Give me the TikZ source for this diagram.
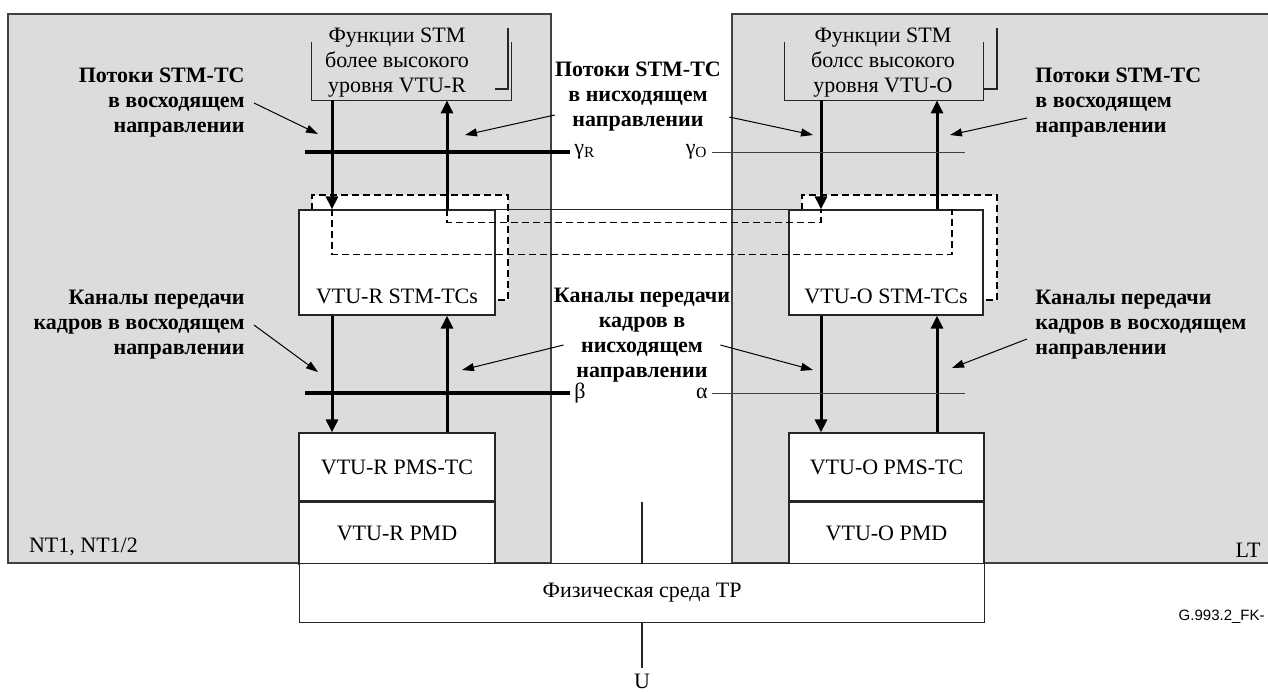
\documentclass[tikz,border=0pt]{standalone}
\usepackage{fontspec}
\setmainfont{Liberation Serif}
\newfontfamily\figidfont{Liberation Sans}
\usepackage{tikz}
\usetikzlibrary{arrows.meta,calc,positioning}
\definecolor{zonegray}{HTML}{DCDCDC}
\definecolor{linegray}{HTML}{404040}
\tikzset{
  zone/.style={draw=linegray,fill=zonegray,line width=0.6pt},
  blk/.style={draw=black!85,fill=white,line width=0.6pt,inner sep=0pt,font=\fontsize{11}{12.3}\selectfont},
  fn/.style={font=\fontsize{11}{12.3}\selectfont,align=center,inner sep=0pt},
  note/.style={font=\fontsize{11}{12.5}\selectfont\bfseries,inner sep=0pt},
  flow/.style={line width=1.5pt,-{Triangle[length=6.5pt,width=6pt]}},
  ptr/.style={line width=0.5pt,-{Triangle[length=6pt,width=4pt]}},
  refthick/.style={line width=1.7pt},
  refthin/.style={line width=0.5pt,draw=linegray},
  frame/.style={line width=0.6pt,draw=black!85},
  link/.style={line width=0.6pt,dash pattern=on 3.5pt off 2pt},
  backbox/.style={link,fill=white}
}

\begin{document}
\begin{tikzpicture}[x=0.5pt,y=-0.5pt,node distance=0pt,font=\fontsize{11}{12.3}\selectfont]
\useasboundingbox (0,0) rectangle (1268,691);
\draw[zone] (8,14) rectangle (551,563);
\draw[zone] (732,14) rectangle (1290,563);

\coordinate (dR) at (332,0);
\coordinate (uR) at (447,0);
\coordinate (dO) at (821,0);
\coordinate (uO) at (937,0);
\coordinate (lkO) at (952,0);

\node[minimum width=99.5pt,minimum height=29pt,inner sep=0pt] (fnR) at (411.5,71) {};
\node[minimum width=99pt,minimum height=29pt,inner sep=0pt] (fnO) at (884,71) {};
\draw[frame] (fnR.north west) |- (fnR.south east) -- (fnR.north east);
\draw[frame] (495,89) -| (508,28);
\draw[frame] (fnO.north west) |- (fnO.south east) -- (fnO.north east);
\draw[frame] (983,89) -| (997,28);
\node[fn] (fnRtxt) at (397,62.5) {Функции STM\\более высокого\\уровня VTU-R};
\node[fn] (fnOtxt) at (883,62.5) {Функции STM\\болсс высокого\\уровня VTU-O};

\draw[backbox] (312,210) |- (508,195) |- (495,300);
\draw[backbox] (802,210) |- (997,195) |- (983,300);
\node[blk,minimum width=98pt,minimum height=52.5pt] (tcR) at (397,262.5) {};
\node[blk,minimum width=97pt,minimum height=52.5pt] (tcO) at (886,262.5) {};
\node[fn] (tcRtxt) at ([yshift=9.5pt]tcR.south) {VTU-R STM-TCs};
\node[fn] (tcOtxt) at ([yshift=9.5pt]tcO.south) {VTU-O STM-TCs};
\draw[frame] (tcR.north east) -- (tcO.north west);

\node[blk,minimum width=98pt,minimum height=34pt] (pmsR) at (397,467) {VTU-R PMS-TC};
\node[blk,minimum width=98pt,minimum height=31pt,below=of pmsR] (pmdR) {VTU-R PMD};
\node[blk,minimum width=97.5pt,minimum height=34pt] (pmsO) at (886.5,467) {VTU-O PMS-TC};
\node[blk,minimum width=97.5pt,minimum height=31pt,below=of pmsO] (pmdO) {VTU-O PMD};
\node[blk,minimum width=342.5pt,minimum height=29.5pt,anchor=north west] (phys) at (299,563) {Физическая среда TP};

\draw[link] (tcR.north -| uR) -- ++(0,13) -| (tcO.north -| dO);
\draw[link] (tcR.north -| dR) -- ++(0,45) -| (tcO.north -| lkO);

\draw[flow] (fnR.south -| dR) -- (tcR.north -| dR);
\draw[flow] (tcR.north -| uR) -- (fnR.south -| uR);
\draw[flow] (tcR.south -| dR) -- (pmsR.north -| dR);
\draw[flow] (pmsR.north -| uR) -- (tcR.south -| uR);
\draw[flow] (fnO.south -| dO) -- (tcO.north -| dO);
\draw[flow] (tcO.north -| uO) -- (fnO.south -| uO);
\draw[flow] (tcO.south -| dO) -- (pmsO.north -| dO);
\draw[flow] (pmsO.north -| uO) -- (tcO.south -| uO);

\node[inner sep=2pt,anchor=west] (gR) at (570,152) {γ\textsubscript{R}};
\node[inner sep=2pt,anchor=east] (gO) at (712,152) {γ\textsubscript{O}};
\node[inner sep=2pt,anchor=west] (bt) at (570,393) {β};
\node[inner sep=2pt,anchor=east] (al) at (712,393) {α};
\coordinate (gRl) at (305,152);
\coordinate (gOr) at (965,152);
\coordinate (btl) at (305,393);
\coordinate (alr) at (965,393);
\draw[refthick] (gRl) -- (gR.west);
\draw[refthin] (gO.east) -- (gOr);
\draw[refthick] (btl) -- (bt.west);
\draw[refthin] (al.east) -- (alr);

\coordinate (uTop) at (642,502);
\coordinate (uBot) at (642,668);
\draw[frame] (uTop) -- (uTop |- phys.north);
\draw[frame] (uBot |- phys.south) -- (uBot);
\node[anchor=base] (ulbl) at (642,688) {U};

\node[note,align=right,anchor=east] (upR) at (245,103) {Потоки STM-TC\\в восходящем\\направлении};
\node[note,align=center] (dnTop) at (638,97) {Потоки STM-TC\\в нисходящем\\направлении};
\node[note,align=left,anchor=west] (upO) at (1035,103) {Потоки STM-TC\\в восходящем\\направлении};
\node[note,align=right,anchor=east] (chR) at (245,325) {Каналы передачи\\кадров в восходящем\\направлении};
\node[note,align=center] (chDn) at (642,335) {Каналы передачи\\кадров в\\нисходящем\\направлении};
\node[note,align=left,anchor=west] (chO) at (1035,325) {Каналы передачи\\кадров в восходящем\\направлении};

\coordinate (pUpR) at (318,134);
\coordinate (pDnR) at (465,135);
\coordinate (pDnO) at (813,135);
\coordinate (pUpO) at (950,135);
\coordinate (qUpR) at (318,372);
\coordinate (qDnR) at (462,370);
\coordinate (qDnO) at (813,370);
\coordinate (qUpO) at (952,368);
\draw[ptr] ([xshift=4.5pt]upR.east) -- (pUpR);
\draw[ptr] ([yshift=-9pt]dnTop.west) -- (pDnR);
\draw[ptr] ([xshift=4pt,yshift=-10pt]dnTop.east) -- (pDnO);
\draw[ptr] ([xshift=-4pt,yshift=-7.5pt]upO.west) -- (pUpO);
\draw[ptr] ([xshift=4.5pt]chR.east) -- (qUpR);
\draw[ptr] ([xshift=5pt,yshift=-5pt]chDn.west) -- (qDnR);
\draw[ptr] ([xshift=-5pt,yshift=-5pt]chDn.east) -- (qDnO);
\draw[ptr] ([xshift=-4pt,yshift=-7pt]chO.west) -- (qUpO);

\node[anchor=west] (nt) at (22,547) {NT1, NT1/2};
\node (lt) at (1248,550) {LT};
\node[font=\figidfont\fontsize{7.5}{9}\selectfont,anchor=east,inner sep=1pt] (figid) at (1267,617) {G.993.2\_FK-};
\end{tikzpicture}
\end{document}
